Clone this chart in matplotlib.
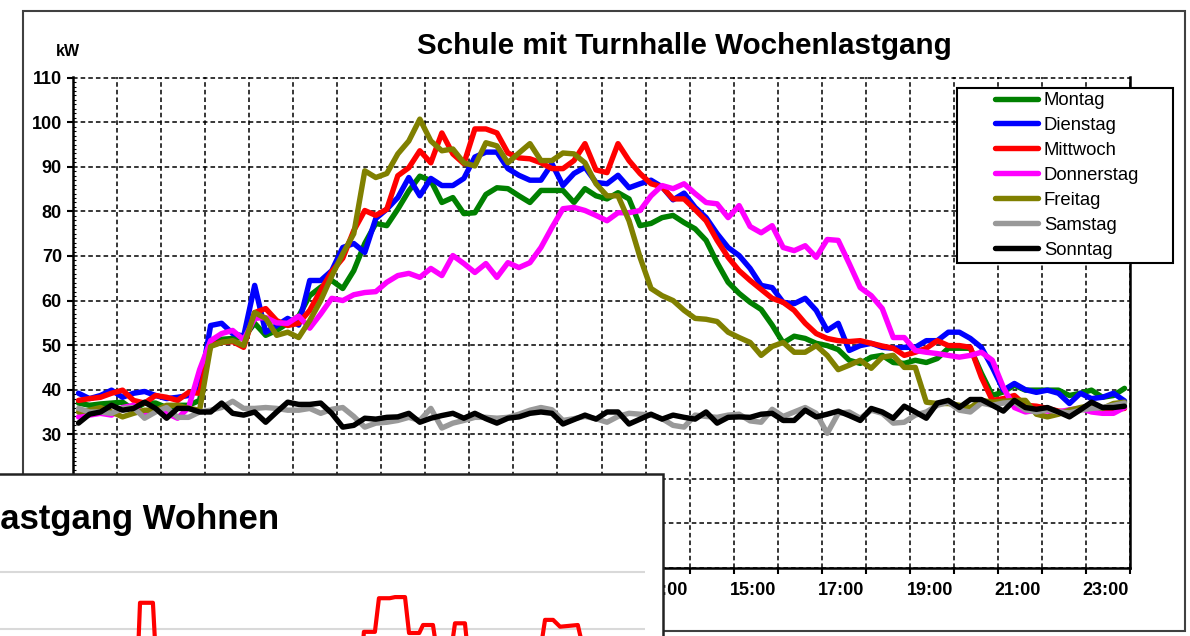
import matplotlib
matplotlib.use('Agg')
import matplotlib.pyplot as plt
import numpy as np
from matplotlib.patches import Rectangle

plt.rcParams['font.family'] = ['Liberation Sans', 'DejaVu Sans']

# daily load profiles, 15 min values (kW)
days = ['Montag', 'Dienstag', 'Mittwoch', 'Donnerstag', 'Freitag', 'Samstag', 'Sonntag']
colors = ['#008000', '#0000ff', '#ff0000', '#ff00ff', '#808000', '#999999', '#000000']

montag = [37.0, 36.5, 36.8, 37.0, 37.2, 35.5, 37.0, 37.0, 36.0, 36.5, 36.5, 37.6,
          50.8, 51.3, 51.5, 51.7, 54.9, 52.2, 53.3, 54.9, 56.5, 61.1, 63.0, 64.5,
          62.7, 66.7, 72.8, 77.3, 76.8, 80.5, 84.6, 87.9, 86.9, 82.0, 83.1, 79.5,
          79.7, 83.8, 85.3, 85.1, 83.5, 82.0, 84.7, 84.7, 84.7, 82.0, 85.1, 83.5,
          82.8, 84.2, 82.8, 76.8, 77.3, 78.6, 79.1, 77.5, 76.1, 73.5, 68.5, 64.1,
          61.6, 59.6, 58.0, 54.5, 50.5, 52.0, 51.5, 50.4, 49.9, 49.0, 46.6, 45.9,
          47.3, 47.7, 46.1, 45.9, 46.6, 46.1, 47.0, 49.3, 49.3, 49.3, 43.7, 38.7,
          39.5, 41.0, 39.9, 39.9, 39.9, 39.9, 38.7, 39.2, 39.9, 38.3, 38.7, 40.3]
dienstag = [39.2, 38.0, 38.7, 39.9, 38.3, 39.2, 39.6, 38.7, 38.0, 38.3, 38.7, 40.3,
            54.4, 54.9, 52.6, 52.0, 63.4, 52.9, 54.4, 56.0, 54.5, 64.5, 64.5, 66.7,
            71.9, 72.8, 70.8, 78.4, 80.5, 83.1, 87.6, 83.5, 87.4, 85.8, 85.8, 87.4,
            92.2, 93.3, 93.3, 89.6, 88.1, 87.0, 87.0, 90.7, 85.8, 88.5, 89.9, 86.5,
            86.2, 88.1, 85.3, 86.2, 87.0, 85.5, 82.6, 84.1, 80.9, 78.6, 75.0, 71.9,
            70.1, 67.2, 63.4, 62.9, 59.6, 59.3, 60.5, 57.8, 53.3, 54.9, 48.8, 49.9,
            50.4, 49.5, 49.3, 49.5, 49.5, 51.0, 51.0, 52.9, 52.9, 51.5, 49.5, 45.0,
            39.9, 41.4, 40.0, 39.4, 39.9, 39.2, 36.9, 39.2, 38.0, 38.3, 39.2, 37.5]
mittwoch = [37.6, 38.0, 38.3, 39.2, 39.9, 37.6, 37.0, 38.7, 38.3, 37.6, 39.4, 39.2,
            50.0, 50.6, 50.8, 49.5, 57.3, 58.2, 55.5, 54.4, 54.9, 57.8, 62.3, 66.5,
            69.5, 75.7, 80.2, 79.1, 80.5, 88.0, 89.8, 93.6, 90.9, 97.6, 92.9, 90.7,
            98.5, 98.5, 97.6, 93.1, 92.0, 91.8, 90.9, 89.6, 89.6, 91.4, 95.2, 89.3,
            88.7, 95.2, 91.4, 88.5, 86.2, 85.5, 82.8, 82.8, 80.4, 77.9, 73.5, 69.7,
            66.7, 64.5, 62.5, 60.5, 59.6, 57.8, 54.9, 52.6, 51.5, 51.0, 50.8, 51.0,
            50.4, 49.8, 49.3, 47.7, 48.4, 49.3, 51.0, 49.9, 49.9, 49.5, 42.8, 37.6,
            38.0, 38.7, 36.5, 36.3, 35.8, 35.2, 35.0, 35.8, 35.5, 35.4, 35.6, 35.8]
donnerstag = [33.9, 34.3, 34.7, 34.3, 36.0, 36.5, 34.3, 35.4, 34.7, 33.6, 36.0, 44.5,
              51.0, 52.6, 53.3, 51.2, 56.0, 56.2, 55.0, 54.9, 56.5, 53.8, 57.0, 60.5,
              60.0, 61.3, 61.8, 62.0, 64.1, 65.6, 66.1, 65.2, 67.2, 65.6, 70.1, 68.3,
              66.3, 68.3, 65.2, 68.5, 67.4, 68.5, 71.9, 76.4, 80.6, 80.9, 80.2, 79.1,
              77.9, 79.7, 79.7, 80.2, 83.5, 85.8, 85.1, 86.2, 84.0, 82.0, 81.7, 78.6,
              81.3, 76.6, 75.2, 76.8, 71.9, 71.2, 72.3, 69.7, 73.7, 73.5, 68.3, 62.9,
              61.1, 58.2, 51.7, 51.7, 48.8, 48.4, 48.1, 47.7, 47.3, 47.7, 48.4, 46.6,
              40.5, 36.0, 35.0, 35.4, 35.2, 35.0, 35.5, 35.8, 35.0, 34.7, 34.7, 36.0]
freitag = [35.0, 35.4, 36.0, 35.0, 33.9, 34.7, 35.4, 35.4, 36.5, 36.5, 35.8, 35.4,
           49.7, 50.6, 51.0, 49.9, 57.3, 56.0, 52.2, 52.9, 51.7, 55.5, 60.0, 65.5,
           70.5, 75.0, 89.1, 87.6, 88.5, 92.9, 95.8, 100.7, 95.8, 93.6, 94.0, 90.9,
           90.2, 95.4, 94.7, 90.9, 93.1, 95.2, 91.4, 91.4, 93.1, 92.9, 90.9, 86.2,
           83.5, 83.5, 77.9, 69.7, 62.7, 61.1, 60.0, 57.8, 56.0, 55.8, 55.3, 52.9,
           51.7, 50.6, 47.7, 49.7, 50.6, 48.4, 48.4, 49.9, 47.7, 44.5, 45.5, 46.6,
           44.8, 47.3, 47.7, 45.0, 45.0, 37.2, 36.9, 36.9, 36.5, 36.0, 37.6, 37.2,
           37.4, 37.6, 37.6, 34.5, 33.9, 34.5, 35.4, 36.0, 36.5, 35.8, 36.9, 37.2]
samstag = [35.8, 35.0, 35.0, 34.7, 35.8, 36.0, 33.6, 35.0, 36.0, 33.8, 33.8, 35.0,
           35.4, 36.0, 37.4, 35.8, 35.8, 36.0, 35.8, 35.4, 35.4, 35.8, 34.7, 35.6,
           36.0, 34.0, 31.6, 32.5, 32.7, 33.1, 33.8, 33.1, 35.8, 31.4, 32.5, 33.1,
           33.8, 33.8, 33.6, 33.8, 34.5, 35.4, 36.0, 35.5, 33.1, 33.5, 34.0, 33.5,
           32.7, 34.0, 34.7, 34.5, 34.3, 33.5, 32.0, 31.6, 34.3, 34.0, 33.8, 34.3,
           34.5, 33.0, 32.7, 35.6, 34.0, 35.0, 36.0, 34.7, 30.2, 34.7, 35.0, 33.6,
           35.4, 34.7, 32.5, 32.7, 34.3, 35.0, 36.5, 37.2, 35.4, 35.0, 37.0, 36.5,
           37.0, 37.2, 35.5, 35.0, 35.5, 35.0, 34.8, 35.4, 35.8, 36.0, 36.5, 37.0]
sonntag = [32.5, 34.5, 35.0, 36.5, 35.4, 35.8, 37.2, 35.8, 33.6, 35.8, 35.8, 35.0,
           35.0, 37.0, 34.7, 34.3, 35.0, 32.7, 35.0, 37.2, 36.7, 36.7, 37.0, 34.7,
           31.6, 32.0, 33.6, 33.4, 33.8, 33.9, 34.7, 32.7, 33.6, 34.2, 34.7, 33.6,
           34.7, 33.5, 32.5, 33.6, 33.9, 34.7, 35.0, 34.7, 32.3, 33.3, 34.3, 33.4,
           35.0, 35.0, 32.3, 33.4, 34.5, 33.4, 34.3, 33.8, 33.4, 35.0, 32.5, 33.8,
           33.9, 33.8, 34.5, 34.7, 33.1, 33.1, 35.4, 33.9, 34.5, 35.2, 34.2, 33.1,
           35.8, 35.0, 33.6, 36.3, 35.0, 33.6, 37.0, 37.6, 36.0, 37.8, 37.8, 36.5,
           35.2, 37.6, 36.0, 35.6, 36.0, 35.0, 33.9, 35.5, 37.2, 36.0, 36.0, 36.3]
series = [montag, dienstag, mittwoch, donnerstag, freitag, samstag, sonntag]

label_hours = [1, 3, 5, 7, 9, 11, 13, 15, 17, 19, 21, 23]
hour_labels = ['%d:00' % h for h in label_hours]
y_ticks = [0, 10, 20, 30, 40, 50, 60, 70, 80, 90, 100, 110]
# 0..20 sit under the overlapping chart
y_labels = ['', '', '', '30', '40', '50', '60', '70', '80', '90', '100', '110']

# overlapping second chart (residential load), only partly visible
inset_h = [0, 5.13, 5.21, 5.69, 5.80, 13.47, 13.54, 13.95, 14.10, 14.50, 14.70, 15.07, 15.22, 15.60,
           15.74, 16.11, 16.26, 16.78, 16.93, 17.30, 17.41, 20.10, 20.28, 20.58, 20.84, 21.50, 21.73, 24]
inset_kw = [1.5, 1.5, 2.46, 2.46, 1.5, 1.5, 1.95, 1.95, 2.54, 2.54, 2.56, 2.56, 1.93, 1.93,
            2.07, 2.07, 1.6, 1.6, 2.1, 2.1, 1.6, 1.6, 2.16, 2.16, 2.04, 2.07, 1.6, 1.6]

W, H = 1190, 636
fig = plt.figure(figsize=(W / 100, H / 100), dpi=100)


def fx(px):
    return px / W


def fy(py):
    return 1 - py / H


ax = fig.add_axes([fx(73), fy(568), fx(1130) - fx(73), fy(77) - fy(568)])
t = np.arange(96) * 0.25 + 0.125
for name, vals, col in zip(days, series, colors):
    ax.plot(t, vals, color=col, lw=3.9, label=name, solid_joinstyle='round', solid_capstyle='round')

ax.set_xlim(0, 24)
ax.set_ylim(0, 110.15)
ax.set_xticks(range(25))
ax.set_xticklabels([])
ax.set_xticks([h + 0.45 for h in label_hours], labels=hour_labels, minor=True)
ax.set_yticks(y_ticks, labels=y_labels)
ax.set_yticks(np.arange(0, 111, 1), minor=True)
ax.tick_params(axis='x', which='major', length=4, width=1.5, direction='out')
ax.tick_params(axis='x', which='minor', length=0, pad=10, labelsize=13)
ax.tick_params(axis='y', which='major', length=4, width=1.5, direction='out', labelsize=13, pad=4)
ax.tick_params(axis='y', which='minor', length=2.5, width=0.8, direction='in')
for lbl in ax.get_xticklabels(minor=True) + ax.get_yticklabels():
    lbl.set_fontweight('bold')
ax.grid(True, which='major', color='black', linestyle=(0, (3, 2)), linewidth=1.1)
ax.spines['top'].set_visible(False)
for s in ['left', 'bottom', 'right']:
    ax.spines[s].set_linewidth(1.8)

leg = ax.legend(loc='upper left', bbox_to_anchor=(fx(995), fy(92)), bbox_transform=fig.transFigure,
                frameon=False, fontsize=13.3, handlelength=2.35, handletextpad=0.3,
                labelspacing=0.43, borderpad=0, borderaxespad=0)
leg.set_zorder(6)
ax.add_patch(Rectangle((fx(957), fy(263)), fx(1173) - fx(957), fy(88) - fy(263),
                       transform=fig.transFigure, facecolor='white', edgecolor='black',
                       lw=1.5, zorder=5, clip_on=False))

fig.text(fx(684), fy(46), 'Schule mit Turnhalle Wochenlastgang', ha='center', va='center',
         fontsize=21.3, fontweight='bold')
fig.text(fx(56), fy(51), 'kW', ha='left', va='center', fontsize=11.5, fontweight='bold')

fig.add_artist(Rectangle((fx(23), fy(631)), fx(1185) - fx(23), fy(11) - fy(631),
                         transform=fig.transFigure, fill=False, edgecolor='#404040', lw=1.5, zorder=1))

# inset box
fig.add_artist(Rectangle((fx(-5), fy(645)), fx(668), fy(474) - fy(645),
                         transform=fig.transFigure, facecolor='white', edgecolor='#222222',
                         lw=1.8, zorder=5))
fig.text(fx(-21), fy(519), 'Lastgang Wohnen', ha='left', va='center', fontsize=25,
         fontweight='bold', zorder=7)

iax = fig.add_axes([0, 0, fx(645), fy(560)])
iax.set_zorder(6)
iax.patch.set_visible(False)
iax.plot(inset_h, inset_kw, color='#ff0000', lw=3)
iax.set_xlim(0, 24)
iax.set_ylim(2 - 7 / 57, 2 + 69 / 57)
iax.set_yticks([2, 3])
iax.set_xticks([])
iax.grid(True, axis='y', color='#d9d9d9', lw=1.5)
iax.tick_params(length=0, labelleft=False)
for s in iax.spines.values():
    s.set_visible(False)

fig.savefig('out.png', dpi=100)
